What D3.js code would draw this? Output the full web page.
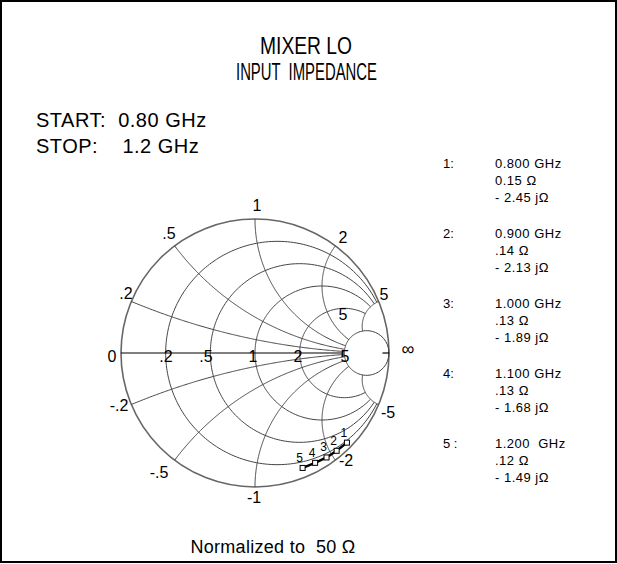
<!DOCTYPE html>
<html>
<head>
<meta charset="utf-8">
<script src="https://cdn.jsdelivr.net/npm/d3@7"></script>
<style>
  body { margin: 0; background: #fff; }
  svg { display: block; }
  text { font-family: "Liberation Sans", Arial, sans-serif; fill: #000; }
</style>
</head>
<body>
<svg width="617" height="564"></svg>
<script>
// marker data (normalized impedance)
let markerIds = ["1", "2", "3", "4", "5"];
let markerTags = ["1:", "2:", "3:", "4:", "5 :"];
let freqLabels = ["0.800 GHz", "0.900 GHz", "1.000 GHz", "1.100 GHz", "1.200  GHz"];
let resistance = [0.15, 0.14, 0.13, 0.13, 0.12];
let reactance = [-2.45, -2.13, -1.89, -1.68, -1.49];
let resLabels = ["0.15 \u03A9", ".14 \u03A9", ".13 \u03A9", ".13 \u03A9", ".12 \u03A9"];
let reactLabels = ["- 2.45 j\u03A9", "- 2.13 j\u03A9", "- 1.89 j\u03A9", "- 1.68 j\u03A9", "- 1.49 j\u03A9"];

// grid values
let rCircles = [0.2, 0.5, 1, 2];
let xArcs = [0.2, 0.5, 1, 2, -0.2, -0.5, -1, -2];
let gridMax = 5;

const svg = d3.select("svg");
const cx = 255, cy = 353, R = 134;

let sx = d3.scaleLinear().domain([-1, 1]).range([cx - R, cx + R]);
let sy = d3.scaleLinear().domain([-1, 1]).range([cy + R, cy - R]);

// z = r + jx  ->  reflection coefficient
function gamma(r, x) {
    let den = (r + 1) * (r + 1) + x * x;
    return [(r * r + x * x - 1) / den, 2 * x / den];
}

let line = d3.line().x(d => sx(d[0])).y(d => sy(d[1]));

// frame
svg.append("rect")
    .attr("x", 1).attr("y", 1).attr("width", 615).attr("height", 561)
    .style("fill", "none").style("stroke", "#000").style("stroke-width", 2);

let chart = svg.append("g");
let gridColor = "#444";

// outer circle r = 0
chart.append("circle")
    .attr("cx", sx(0)).attr("cy", sy(0)).attr("r", sx(1) - sx(0))
    .style("fill", "none").style("stroke", "#666").style("stroke-width", 1.6);

// constant resistance circles, clipped at |x| = 5
let tMax = Math.atan(gridMax);
rCircles.forEach(r => {
    let pts = d3.range(0, 201).map(i => {
        let t = -tMax + 2 * tMax * i / 200;
        return gamma(r, Math.tan(t));
    });
    chart.append("path").attr("d", line(pts))
        .style("fill", "none").style("stroke", gridColor).style("stroke-width", 1);
});

// r = 5 circle drawn in full
let pts5 = d3.range(0, 201).map(i => {
    let t = -Math.PI / 2 + 0.0001 + (Math.PI - 0.0002) * i / 200;
    return gamma(gridMax, Math.tan(t));
});
chart.append("path").attr("d", line(pts5))
    .style("fill", "none").style("stroke", gridColor).style("stroke-width", 1);

// constant reactance arcs, clipped at r = 5
xArcs.concat([gridMax, -gridMax]).forEach(x => {
    let pts = d3.range(0, 201).map(i => gamma(Math.tan(tMax * i / 200), x));
    chart.append("path").attr("d", line(pts))
        .style("fill", "none").style("stroke", gridColor).style("stroke-width", 1);
});

// real axis
chart.append("path").attr("d", line([gamma(0, 0), gamma(gridMax, 0)]))
    .style("stroke", "#000").style("stroke-width", 1.2);
chart.append("path").attr("d", line([gamma(40, 0), [1, 0]]))
    .style("stroke", "#000").style("stroke-width", 1.2);

// grid labels
let labels = [
    {t: "1", x: 257, y: 211}, {t: ".5", x: 169, y: 239}, {t: "2", x: 343, y: 243},
    {t: ".2", x: 126, y: 299}, {t: "5", x: 384, y: 300}, {t: "5", x: 343, y: 320},
    {t: "0", x: 112, y: 362}, {t: ".2", x: 166, y: 362}, {t: ".5", x: 206, y: 362},
    {t: "1", x: 253, y: 362}, {t: "2", x: 298, y: 362}, {t: "5", x: 345, y: 362},
    {t: "-.2", x: 119, y: 411}, {t: "-5", x: 388, y: 418}, {t: "-2", x: 346, y: 466},
    {t: "-.5", x: 159, y: 478}, {t: "-1", x: 254, y: 503}
];
chart.selectAll(".glabel")
    .data(labels)
    .enter().append("text")
    .attr("class", "glabel")
    .attr("x", d => d.x).attr("y", d => d.y)
    .attr("text-anchor", "middle")
    .style("font-size", "16px")
    .text(d => d.t);
chart.append("text")
    .attr("x", 408).attr("y", 355)
    .attr("text-anchor", "middle")
    .style("font-size", "18px")
    .text("\u221E");

// impedance trace
let points = resistance.map((r, i) => gamma(r, reactance[i]));
chart.append("path").attr("d", line(points))
    .style("fill", "none").style("stroke", "#000").style("stroke-width", 2.5);
chart.selectAll(".mk")
    .data(points)
    .enter().append("rect")
    .attr("class", "mk")
    .attr("x", d => sx(d[0]) - 2.5).attr("y", d => sy(d[1]) - 2.5)
    .attr("width", 5).attr("height", 5)
    .style("fill", "#fff").style("stroke", "#000").style("stroke-width", 1);
chart.selectAll(".mklabel")
    .data(points)
    .enter().append("text")
    .attr("class", "mklabel")
    .attr("x", d => sx(d[0]) - 3).attr("y", d => sy(d[1]) - 6)
    .attr("text-anchor", "middle")
    .style("font-size", "12px")
    .text((d, i) => markerIds[i]);

// titles
svg.append("text").attr("x", 260).attr("y", 54)
    .attr("textLength", 92).attr("lengthAdjust", "spacingAndGlyphs")
    .style("font-size", "23px").text("MIXER LO");
svg.append("text").attr("x", 236).attr("y", 80)
    .attr("textLength", 141).attr("lengthAdjust", "spacingAndGlyphs")
    .style("font-size", "23px").style("white-space", "pre")
    .text("INPUT  IMPEDANCE");
svg.append("text").attr("x", 36).attr("y", 127)
    .style("font-size", "20px").style("letter-spacing", "0.5px").style("white-space", "pre")
    .text("START:  0.80 GHz");
svg.append("text").attr("x", 36).attr("y", 153)
    .style("font-size", "20px").style("letter-spacing", "0.5px").style("white-space", "pre")
    .text("STOP:    1.2 GHz");

// marker table
let table = svg.append("g");
markerIds.forEach((m, i) => {
    let y0 = 168 + i * 70;
    table.append("text").attr("x", 443).attr("y", y0)
        .style("font-size", "13px").style("white-space", "pre").text(markerTags[i]);
    table.append("text").attr("x", 495).attr("y", y0)
        .style("font-size", "13px").style("letter-spacing", "0.5px").style("white-space", "pre").text(freqLabels[i]);
    table.append("text").attr("x", 495).attr("y", y0 + 17)
        .style("font-size", "13px").style("letter-spacing", "0.5px").text(resLabels[i]);
    table.append("text").attr("x", 495).attr("y", y0 + 34)
        .style("font-size", "13px").style("letter-spacing", "0.5px").text(reactLabels[i]);
});

svg.append("text").attr("x", 273).attr("y", 553).attr("text-anchor", "middle")
    .style("font-size", "18px").style("letter-spacing", "0.3px").style("white-space", "pre")
    .text("Normalized to  50 \u03A9");
</script>
</body>
</html>
